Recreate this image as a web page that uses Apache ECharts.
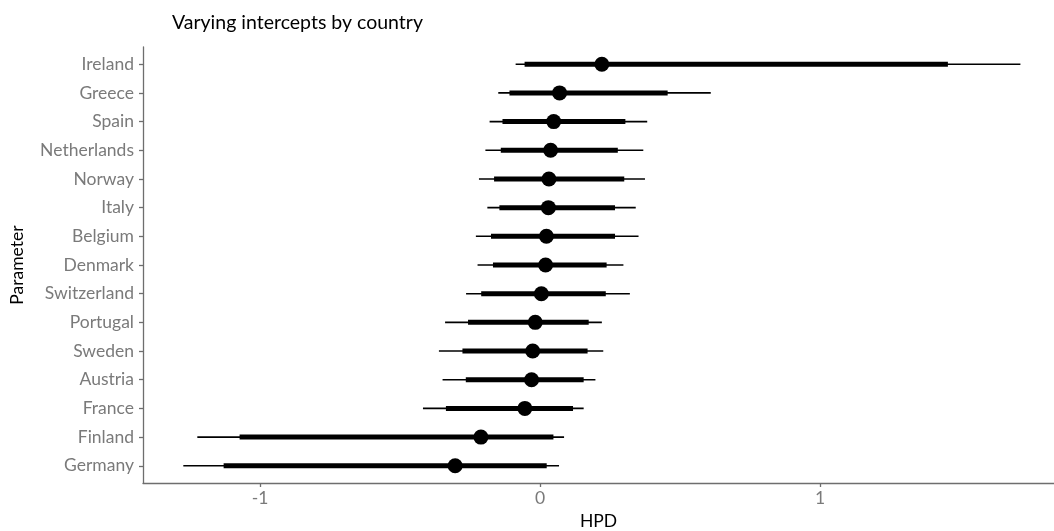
<!DOCTYPE html>
<html>
<head>
<meta charset="utf-8">
<script src="https://cdn.jsdelivr.net/npm/echarts@6/dist/echarts.min.js"></script>
<style>html,body{margin:0;padding:0;background:#fff}#c{width:1054px;height:531px}</style>
</head>
<body>
<div id="c"></div>
<script>
// Categories from bottom (index 0) to top
const categories = ["Germany","Finland","France","Austria","Sweden","Portugal","Switzerland","Denmark","Belgium","Italy","Norway","Netherlands","Spain","Greece","Ireland"];
const outerLow  = [-1.274,-1.224,-0.418,-0.348,-0.361,-0.339,-0.264,-0.223,-0.229,-0.188,-0.218,-0.195,-0.180,-0.149,-0.087];
const innerLow  = [-1.130,-1.073,-0.336,-0.265,-0.277,-0.257,-0.210,-0.168,-0.175,-0.145,-0.164,-0.140,-0.134,-0.109,-0.055];
const pointEst  = [-0.303,-0.211,-0.054,-0.030,-0.026,-0.017, 0.005, 0.020, 0.023, 0.030, 0.032, 0.038, 0.049, 0.070, 0.221];
const innerHigh = [ 0.024, 0.048, 0.118, 0.156, 0.170, 0.174, 0.235, 0.238, 0.268, 0.268, 0.301, 0.278, 0.305, 0.456, 1.457];
const outerHigh = [ 0.068, 0.086, 0.156, 0.198, 0.226, 0.221, 0.321, 0.298, 0.352, 0.342, 0.375, 0.369, 0.383, 0.610, 1.716];
const xTicks = [-1, 0, 1];

const FONT = 'Lato';
const idx = categories.map((_, i) => i);
const outerData = idx.map(i => [outerLow[i], outerHigh[i], i]);
const innerData = idx.map(i => [innerLow[i], innerHigh[i], i]);
const pointData = idx.map(i => [pointEst[i], i]);

function segRenderer(width) {
  return function (params, api) {
    const a = api.coord([api.value(0), api.value(2)]);
    const b = api.coord([api.value(1), api.value(2)]);
    return {
      type: 'line',
      shape: { x1: a[0], y1: a[1], x2: b[0], y2: b[1] },
      style: { stroke: '#000', lineWidth: width, lineCap: 'butt' }
    };
  };
}

const chart = echarts.init(document.getElementById('c'), null, { renderer: 'canvas' });
chart.setOption({
  animation: false,
  backgroundColor: '#fff',
  textStyle: { fontFamily: FONT },
  title: {
    text: 'Varying intercepts by country',
    left: 167, top: 8,
    textStyle: { fontFamily: FONT, fontSize: 19.5, fontWeight: 'normal', color: '#000' }
  },
  grid: { left: 143, right: 0, top: 47, bottom: 48, containLabel: false, outerBoundsMode: 'none' },
  xAxis: {
    type: 'value',
    min: -1.418, max: 1.836,
    name: 'HPD', nameLocation: 'middle', nameGap: 22,
    nameTextStyle: { fontFamily: FONT, fontSize: 17.5, color: '#000' },
    axisLine: { show: true, onZero: false, lineStyle: { color: '#6e6e6e', width: 1.3 } },
    axisTick: { show: true, length: 4, customValues: xTicks, lineStyle: { color: '#6e6e6e', width: 1.3 } },
    axisLabel: { customValues: xTicks, margin: 6, fontFamily: FONT, fontSize: 17.5, color: '#7a7a7a', formatter: v => String(v) },
    splitLine: { show: false }
  },
  yAxis: {
    type: 'value',
    min: -0.6, max: 14.6,
    name: 'Parameter', nameLocation: 'middle', nameGap: 117, nameRotate: 90,
    nameTextStyle: { fontFamily: FONT, fontSize: 17.5, color: '#000' },
    axisLine: { show: true, onZero: false, lineStyle: { color: '#6e6e6e', width: 1.3 } },
    axisTick: { show: true, length: 4, customValues: idx, lineStyle: { color: '#6e6e6e', width: 1.3 } },
    axisLabel: { customValues: idx, margin: 9, fontFamily: FONT, fontSize: 17.5, color: '#7a7a7a', formatter: v => categories[Math.round(v)] },
    splitLine: { show: false }
  },
  series: [
    { type: 'custom', renderItem: segRenderer(1.6), data: outerData, encode: { x: [0, 1], y: 2 }, z: 1 },
    { type: 'custom', renderItem: segRenderer(5), data: innerData, encode: { x: [0, 1], y: 2 }, z: 2 },
    { type: 'scatter', data: pointData, symbolSize: 15, itemStyle: { color: '#000', opacity: 1 }, z: 3 }
  ]
});
</script>
</body>
</html>
